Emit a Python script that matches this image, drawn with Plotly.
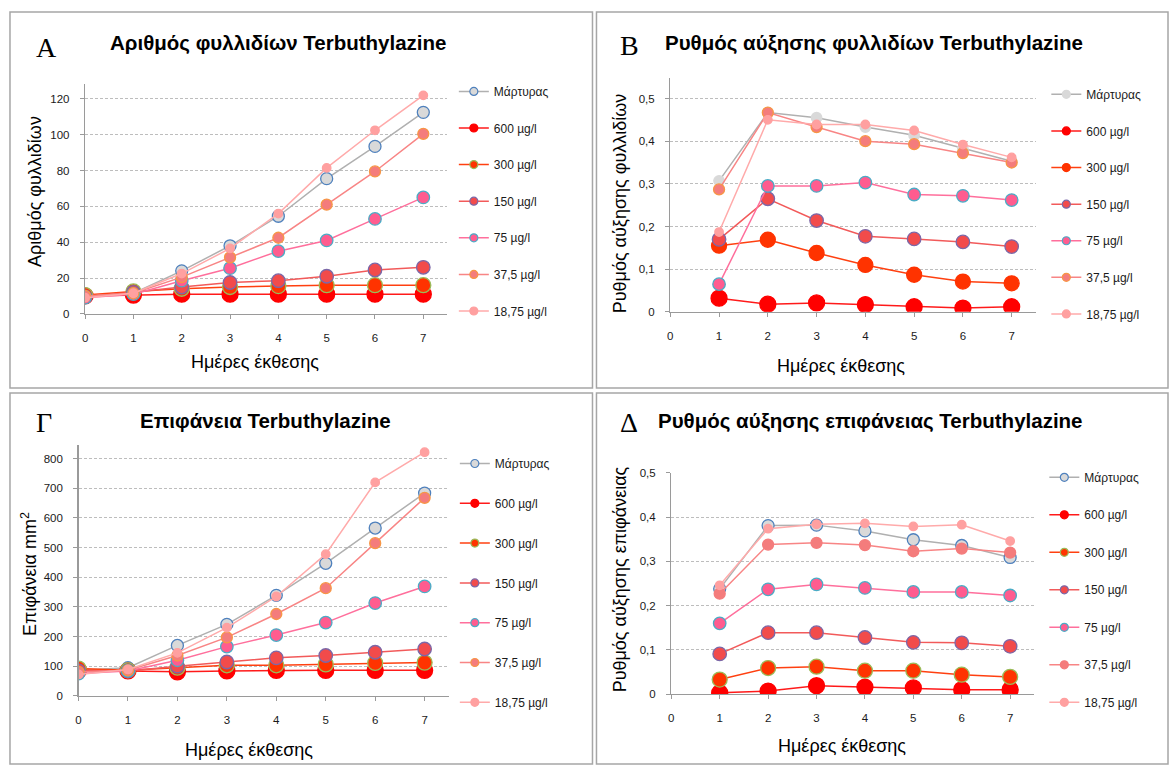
import plotly.graph_objects as go

W, H = 1171, 772

# ---- data ---------------------------------------------------------------
days = [0, 1, 2, 3, 4, 5, 6, 7]
rate_days = [1, 2, 3, 4, 5, 6, 7]
series_names = ["Μάρτυρας", "600 µg/l", "300 µg/l", "150 µg/l", "75 µg/l", "37,5 µg/l", "18,75 µg/l"]

# A: number of fronds
fronds_control = [10, 11.5, 24, 38, 54.5, 75.5, 93.5, 112.5]
fronds_600 = [10, 10.5, 11, 11, 11, 11, 11, 11]
fronds_300 = [10.5, 12.5, 14, 15, 15.5, 16, 16, 16]
fronds_150 = [9.5, 12, 15, 17.5, 18.5, 21, 24.5, 26]
fronds_75 = [9, 11, 18.5, 25.5, 35, 41, 53, 65]
fronds_37_5 = [10, 11.5, 20.5, 31.5, 42.5, 61, 79.5, 100.5]
fronds_18_75 = [9, 11.5, 22.5, 36.5, 56, 81.5, 102.5, 122]

# B: frond growth rate
frate_control = [0.307, 0.467, 0.455, 0.433, 0.414, 0.383, 0.353]
frate_600 = [0.032, 0.018, 0.021, 0.017, 0.012, 0.009, 0.012]
frate_300 = [0.155, 0.169, 0.138, 0.110, 0.087, 0.071, 0.067]
frate_150 = [0.170, 0.265, 0.214, 0.177, 0.171, 0.164, 0.153]
frate_75 = [0.065, 0.295, 0.295, 0.303, 0.275, 0.272, 0.262]
frate_37_5 = [0.287, 0.467, 0.433, 0.400, 0.393, 0.372, 0.350]
frate_18_75 = [0.187, 0.450, 0.439, 0.439, 0.425, 0.392, 0.362]

# Γ: frond area (mm²)
area_control = [86, 95, 170, 241, 339, 447, 566, 684]
area_600 = [86, 84, 81, 84, 86, 86, 86, 86]
area_300 = [92, 86, 95, 103, 103, 106, 111, 112]
area_150 = [84, 84, 100, 114, 128, 136, 147, 158]
area_75 = [75, 84, 120, 166, 205, 247, 313, 369]
area_37_5 = [81, 86, 136, 197, 276, 363, 515, 668]
area_18_75 = [72, 89, 145, 230, 335, 478, 720, 822]

# Δ: area growth rate
arate_control = [0.238, 0.381, 0.382, 0.369, 0.349, 0.336, 0.309]
arate_600 = [0.003, 0.007, 0.019, 0.016, 0.014, 0.010, 0.010]
arate_300 = [0.033, 0.059, 0.062, 0.053, 0.053, 0.044, 0.039]
arate_150 = [0.091, 0.139, 0.139, 0.128, 0.117, 0.116, 0.108]
arate_75 = [0.160, 0.237, 0.248, 0.240, 0.231, 0.231, 0.223]
arate_37_5 = [0.227, 0.338, 0.342, 0.337, 0.323, 0.329, 0.320]
arate_18_75 = [0.246, 0.374, 0.384, 0.386, 0.379, 0.383, 0.346]

panel_letters = ["A", "B", "Γ", "Δ"]
panel_titles = ["Αριθμός φυλλιδίων Terbuthylazine",
                "Ρυθμός αύξησης φυλλιδίων Terbuthylazine",
                "Επιφάνεια Terbuthylazine",
                "Ρυθμός αύξησης επιφάνειας Terbuthylazine"]
y_titles = ["Αριθμός φυλλιδίων", "Ρυθμός αύξησης φυλλιδίων",
            "Επιφάνεια mm<sup>2</sup>", "Ρυθμός αύξησης επιφάνειας"]
x_title = "Ημέρες έκθεσης"
y_tick_values = [
    [0, 20, 40, 60, 80, 100, 120],
    [0, 0.1, 0.2, 0.3, 0.4, 0.5],
    [0, 100, 200, 300, 400, 500, 600, 700, 800],
    [0, 0.1, 0.2, 0.3, 0.4, 0.5],
]

panel_data = [
    (days, [fronds_control, fronds_600, fronds_300, fronds_150, fronds_75, fronds_37_5, fronds_18_75]),
    (rate_days, [frate_control, frate_600, frate_300, frate_150, frate_75, frate_37_5, frate_18_75]),
    (days, [area_control, area_600, area_300, area_150, area_75, area_37_5, area_18_75]),
    (rate_days, [arate_control, arate_600, arate_300, arate_150, arate_75, arate_37_5, arate_18_75]),
]

# ---- styling ------------------------------------------------------------
fill_colors = ["#D9D9D9", "#FF0000", "#FF3300", "#F24B4B", "#FF5C8F", "#F47C7C", "#FFA0A0"]
line_colors = ["#B0B0B0", "#FF1A1A", "#FF4010", "#F25A5A", "#FF6F9C", "#F88585", "#FFAAAA"]
marker_sizes = [12, 16, 15, 13.5, 12.5, 11, 8.5]
outline_sets = [
    ["#4F81BD", "#FF0000", "#9BBB59", "#7B68A8", "#4BACC6", "#F79646", "#FFA0A0"],
    ["#D9D9D9", "#FF0000", "#FF3300", "#7B68A8", "#4BACC6", "#F79646", "#FFA0A0"],
    ["#4F81BD", "#FF0000", "#9BBB59", "#7B68A8", "#4BACC6", "#F79646", "#FFA0A0"],
    ["#4F81BD", "#FF0000", "#9BBB59", "#7B68A8", "#4BACC6", "#F47C7C", "#FFA0A0"],
]
control_size_b = 10.5

# pixel layout of each panel: x-domain, y-domain (bottom, top), y-range max
px_frames = [
    dict(x=(82.3, 445.6), y=(312.7, 79.3), ymax=128.3, box=(7, 6, 591, 388),
         legend=(452, 72, 17.6)),
    dict(x=(669.0, 1035.7), y=(310.7, 72.7), ymax=0.549, box=(595, 6, 1168, 388),
         legend=(1046, 75, 17.6)),
    dict(x=(75.7, 447.5), y=(700.7, 446.0), ymax=846, box=(7, 393, 591, 770),
         legend=(453, 450, 20.8)),
    dict(x=(670.0, 1034.0), y=(699.0, 474.3), ymax=0.5, box=(595, 393, 1168, 770),
         legend=(1044, 464, 18.5)),
]
letter_pos = [(44, 42), (628, 40), (41, 423), (628, 423)]
title_pos = [(276, 38), (873, 38), (263, 421), (870, 422)]
ytitle_pos = [(32, 188), (618, 200), (26, 577), (619, 582)]
xtitle_pos = [(253, 362), (840, 366), (247, 756), (841, 752)]

FONT = "Liberation Sans"
TXT = "#1A1A1A"


def fx(px):
    return px / W


def fy(py):
    return 1 - py / H


fig = go.Figure()
layout = dict(
    width=W, height=H,
    margin=dict(l=0, r=0, t=0, b=0),
    paper_bgcolor="white", plot_bgcolor="rgba(0,0,0,0)",
    separators=", ",
    font=dict(family=FONT, size=11, color=TXT),
    shapes=[], annotations=[],
    hovermode=False,
)

for p in range(4):
    fr = px_frames[p]
    sfx = "" if p == 0 else str(p + 1)
    xa, ya = "x" + sfx, "y" + sfx
    leg = "legend" + sfx
    xs, ys_list = panel_data[p]

    layout["xaxis" + sfx] = dict(
        domain=[fx(fr["x"][0]), fx(fr["x"][1])], range=[0, 7.5], anchor=ya,
        tickvals=days, ticks="outside", ticklen=4, tickcolor="#9A9A9A",
        showline=True, linecolor="#9A9A9A", linewidth=1.3, showgrid=False,
        zeroline=False, ticklabelstandoff=9,
        tickfont=dict(family=FONT, size=11.5, color=TXT), fixedrange=True,
    )
    layout["yaxis" + sfx] = dict(
        domain=[fy(fr["y"][0]), fy(fr["y"][1])], range=[0, fr["ymax"]], anchor=xa,
        tickvals=y_tick_values[p], ticks="outside", ticklen=4, tickcolor="#9A9A9A",
        showline=True, linecolor="#9A9A9A", linewidth=1.3,
        showgrid=True, gridcolor="#BDBDBD", gridwidth=1, griddash="3px,2px",
        zeroline=False, ticklabelstandoff=8,
        tickfont=dict(family=FONT, size=11.5, color=TXT), fixedrange=True,
    )

    lx, ltop, gap = fr["legend"]
    layout[leg] = dict(
        x=fx(lx), y=fy(ltop), xanchor="left", yanchor="top",
        bgcolor="rgba(0,0,0,0)", borderwidth=0, tracegroupgap=gap,
        traceorder="grouped", font=dict(family=FONT, size=12, color=TXT),
        itemclick=False, itemdoubleclick=False,
    )

    for i, name in enumerate(series_names):
        size = marker_sizes[i]
        if p == 1 and i == 0:
            size = control_size_b
        outline = outline_sets[p][i]
        fig.add_trace(go.Scatter(
            x=xs, y=ys_list[i], mode="lines+markers", name=name,
            xaxis=xa, yaxis=ya, showlegend=False,
            line=dict(color=line_colors[i], width=1.5),
            marker=dict(size=size, color=fill_colors[i],
                        line=dict(color=outline, width=1.3)),
        ))
        # legend key with a small symbol
        fig.add_trace(go.Scatter(
            x=[None], y=[None], mode="lines+markers", name=name,
            xaxis=xa, yaxis=ya, legend=leg, legendgroup=f"{p}-{i}",
            showlegend=True,
            line=dict(color=line_colors[i], width=1.5),
            marker=dict(size=8, color=fill_colors[i],
                        line=dict(color=outline, width=1.2)),
        ))

    # panel frame
    x0, y0, x1, y1 = fr["box"]
    layout["shapes"].append(dict(
        type="rect", xref="paper", yref="paper",
        x0=fx(x0), x1=fx(x1), y0=fy(y1), y1=fy(y0),
        line=dict(color="#A6A6A6", width=1.5), fillcolor="rgba(0,0,0,0)", layer="below",
    ))

    ann = layout["annotations"]
    ann.append(dict(text=panel_letters[p], x=fx(letter_pos[p][0]), y=fy(letter_pos[p][1]),
                    xref="paper", yref="paper", showarrow=False,
                    xanchor="center", yanchor="middle",
                    font=dict(family="Liberation Serif", size=28, color="#000000")))
    ann.append(dict(text="<b>" + panel_titles[p] + "</b>", x=fx(title_pos[p][0]), y=fy(title_pos[p][1]),
                    xref="paper", yref="paper", showarrow=False,
                    xanchor="center", yanchor="middle",
                    font=dict(family=FONT, size=20.5, color="#000000")))
    ann.append(dict(text=y_titles[p], x=fx(ytitle_pos[p][0]), y=fy(ytitle_pos[p][1]),
                    xref="paper", yref="paper", showarrow=False, textangle=-90,
                    xanchor="center", yanchor="middle",
                    font=dict(family=FONT, size=18, color="#000000")))
    ann.append(dict(text=x_title, x=fx(xtitle_pos[p][0]), y=fy(xtitle_pos[p][1]),
                    xref="paper", yref="paper", showarrow=False,
                    xanchor="center", yanchor="middle",
                    font=dict(family=FONT, size=18, color="#000000")))

fig.update_layout(**layout)
fig.write_html("out.html", config={"displayModeBar": False, "staticPlot": True})
